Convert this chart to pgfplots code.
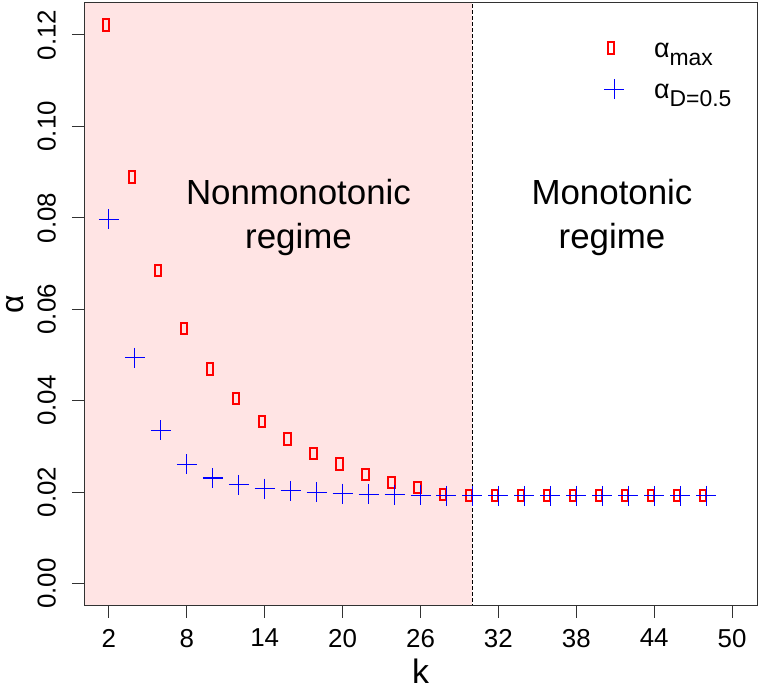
\documentclass[border=0pt]{standalone}
\usepackage{fontspec}
\setmainfont{Liberation Sans}
\usepackage{pgfplots}
\pgfplotsset{compat=1.18}
\definecolor{pinkbg}{RGB}{255,228,228}
\definecolor{axgray}{RGB}{50,50,50}
\pgfdeclareplotmark{tallrect}{%
  \pgfpathrectangle{\pgfpoint{-6.2bp}{-5.8bp}}{\pgfpoint{6.2bp}{11.6bp}}%
  \pgfusepathqstroke}
\begin{document}
\begin{tikzpicture}
\begin{axis}[
  scale only axis, width=673bp, height=603bp,
  xmin=0.08, xmax=51.92, ymin=-0.00488, ymax=0.127,
  axis on top,
  axis line style={line width=1bp, axgray},
  tick pos=left, tick align=outside, major tick length=12bp,
  every tick/.style={line width=1bp, axgray},
  xtick={2,8,14,20,26,32,38,44,50},
  xticklabels={2,8,14,20,26,32,38,44,50},
  ytick={0,0.02,0.04,0.06,0.08,0.10,0.12},
  yticklabels={0.00,0.02,0.04,0.06,0.08,0.10,0.12},
  ticklabel style={font=\fontsize{26}{26}\selectfont},
  xticklabel style={anchor=north, inner sep=0pt},
  yticklabel style={rotate=90, anchor=south, inner sep=0pt},
  xticklabel shift=11bp,
  yticklabel shift=16bp,
  xlabel={k},
  xlabel style={font=\fontsize{34}{34}\selectfont, at={(axis description cs:0.5,0)}, anchor=base, yshift=-78bp},
  ylabel={α},
  ylabel style={font=\fontsize{32}{32}\selectfont, inner sep=0pt, text height=17bp, text depth=0bp,
    at={(axis description cs:0,0.5)}, anchor=center, yshift=69bp},
  legend style={draw=none, fill=none, at={(axis description cs:0.768,0.947)}, anchor=north west,
    font=\fontsize{27}{27}\selectfont, nodes={inner sep=0pt, text height=20bp, text depth=12bp},
    column sep=30bp, row sep=9bp},
  legend cell align=left,
  legend image code/.code={\path[draw=none, fill=none] (-10bp,0bp) -- (10bp,0bp); \path[#1] plot coordinates {(0bp,5bp)};},
]
\addplot[fill=pinkbg, draw=none, forget plot] coordinates {(-5,-1) (30,-1) (30,1) (-5,1)} -- cycle;
\addplot[black, line width=0.9bp, dash pattern=on 3.5bp off 2.5bp, forget plot] coordinates {(30,-1) (30,1)};
\addplot[only marks, mark=tallrect, red, mark options={line width=2bp, draw=red, fill=none}] coordinates {
(2,0.1222) (4,0.0889) (6,0.0685) (8,0.0558) (10,0.0469) (12,0.0405) (14,0.0355) (16,0.0316)
(18,0.0285) (20,0.0261) (22,0.0239) (24,0.0221) (26,0.0210) (28,0.0195) (30,0.0193) (32,0.0193)
(34,0.0193) (36,0.0193) (38,0.0193) (40,0.0193) (42,0.0193) (44,0.0193) (46,0.0193) (48,0.0193)};
\addlegendentry{α\raisebox{-8bp}{\fontsize{23}{23}\selectfont max}}
\addplot[only marks, mark=+, mark size=10bp, blue, mark options={line width=1.1bp}] coordinates {
(2,0.0797) (4,0.0494) (6,0.0335) (8,0.0261) (10,0.0231) (12,0.0216) (14,0.0208) (16,0.0203)
(18,0.0200) (20,0.0197) (22,0.0195) (24,0.0194) (26,0.0193) (28,0.0192) (30,0.0192) (32,0.0192)
(34,0.0192) (36,0.0192) (38,0.0192) (40,0.0192) (42,0.0192) (44,0.0192) (46,0.0192) (48,0.0192)};
\addlegendentry{α\raisebox{-8bp}{\fontsize{23}{23}\selectfont D=0.5}}
\node[align=center, font=\fontsize{35}{44}\selectfont] at (axis cs:16.6,0.0801) {Nonmonotonic\\regime};
\node[align=center, font=\fontsize{35}{44}\selectfont] at (axis cs:40.75,0.0801) {Monotonic\\regime};
\end{axis}
\pgfresetboundingbox
\path (current axis.south west) ++(-84bp,-84bp) rectangle ++(760bp,690bp);
\end{tikzpicture}
\end{document}
